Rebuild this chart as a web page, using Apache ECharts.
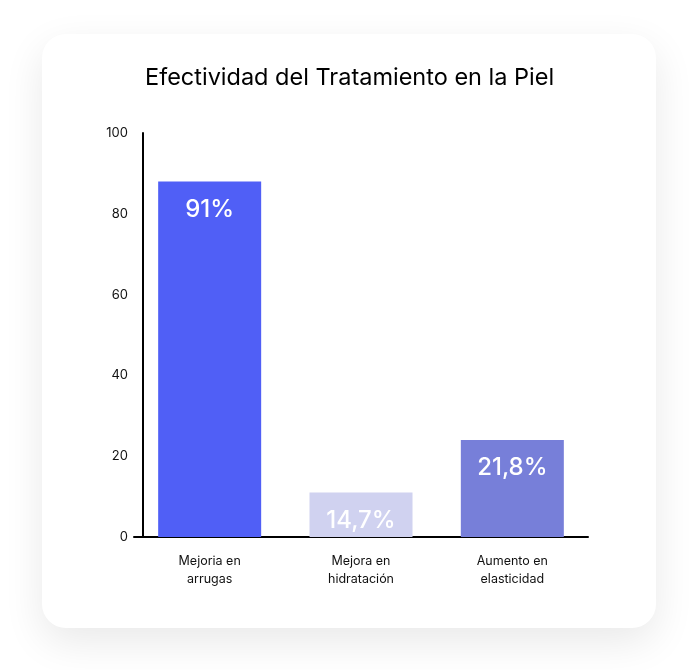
<!DOCTYPE html>
<html>
<head>
<meta charset="utf-8">
<script src="https://cdn.jsdelivr.net/npm/echarts@6/dist/echarts.min.js"></script>
<style>
  html, body { margin: 0; padding: 0; background: #ffffff; }
  #card {
    position: absolute; left: 42px; top: 34px; width: 614px; height: 594px;
    background: #fff; border-radius: 24px;
    box-shadow: 0 14px 40px rgba(0, 0, 0, 0.09);
  }
  #chartmain { position: absolute; left: 0; top: 0; width: 698px; height: 670px; }
</style>
</head>
<body>
<div id="card"></div>
<div id="chartmain"></div>
<script>
// categorías del eje x
var categorias = ['Mejoria en\narrugas', 'Mejora en\nhidratación', 'Aumento en\nelasticidad'];
// alturas de las barras
var valores = [88, 11, 24];
// etiquetas mostradas sobre cada barra
var etiquetas = ['91%', '14,7%', '21,8%'];
var colores = ['#505ff6', '#d0d2f0', '#777fd9'];
var fuente = 'Inter';

var myChart = echarts.init(document.getElementById('chartmain'));

var datos = [];
for (var i = 0; i < valores.length; i++) {
  datos.push({
    value: valores[i],
    itemStyle: { color: colores[i] },
    label: { formatter: etiquetas[i] }
  });
}

myChart.setOption({
  animation: false,
  title: {
    text: 'Efectividad del Tratamiento en la Piel',
    left: 140,
    top: 61,
    textStyle: { fontFamily: fuente, fontSize: 23.5, fontWeight: 'normal', color: '#000' }
  },
  grid: { left: 134, right: 110, top: 133, bottom: 133 },
  xAxis: {
    type: 'category',
    data: categorias,
    axisLine: { lineStyle: { color: '#000', width: 2 } },
    axisTick: { show: false },
    axisLabel: { color: '#111', fontFamily: fuente, fontSize: 12.5, lineHeight: 18, margin: 15 }
  },
  yAxis: {
    type: 'value',
    min: 0,
    max: 100,
    interval: 20,
    offset: -9,
    axisLine: { show: true, lineStyle: { color: '#000', width: 2 } },
    axisTick: { show: false },
    splitLine: { show: false },
    axisLabel: { color: '#111', fontFamily: fuente, fontSize: 13, margin: 15 }
  },
  series: [{
    type: 'bar',
    data: datos,
    barWidth: 103,
    label: {
      show: true,
      position: 'insideTop',
      distance: 16,
      color: '#fff',
      fontFamily: fuente,
      fontWeight: 500,
      fontSize: 24
    }
  }]
});
</script>
</body>
</html>
